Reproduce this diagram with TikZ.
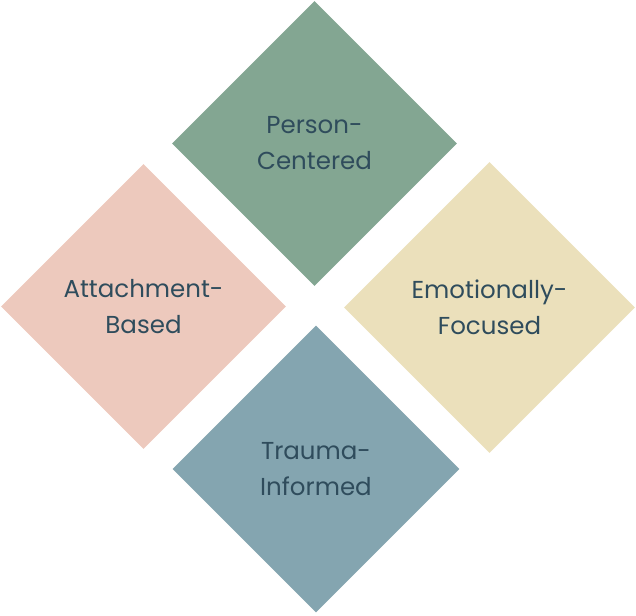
\documentclass[tikz,border=0pt]{standalone}
\usepackage{fontspec}
\setmainfont{Poppins}
\usepackage{tikz}
\usetikzlibrary{shapes.geometric}

\definecolor{sage}{HTML}{83A692}
\definecolor{blush}{HTML}{EDC9BD}
\definecolor{sand}{HTML}{EBE0BB}
\definecolor{slate}{HTML}{84A5B0}
\definecolor{ink}{HTML}{2F4C5C}

\tikzset{
  petal/.style={diamond, aspect=1, inner sep=0pt, draw=none,
    align=center, text=ink, font=\fontsize{24.5}{36}\selectfont}
}

\begin{document}
\begin{tikzpicture}[x=1pt, y=1pt]

    % frame
    \useasboundingbox (0,0) rectangle (636,615);

    % person-centered
    \node[petal, fill=sage, minimum size=285pt] (person) at (314.5,471.5) {Person-\\Centered};

    % attachment-based
    \node[petal, fill=blush, minimum size=285pt] (attach) at (143.5,308.5) {Attachment-\\Based};

    % emotionally-focused
    \node[petal, fill=sand, minimum size=291pt] (emotion) at (489.5,307.5) {Emotionally-\\Focused};

    % trauma-informed
    \node[petal, fill=slate, minimum size=287pt] (trauma) at (316,146) {Trauma-\\Informed};

  \end{tikzpicture}
\end{document}
